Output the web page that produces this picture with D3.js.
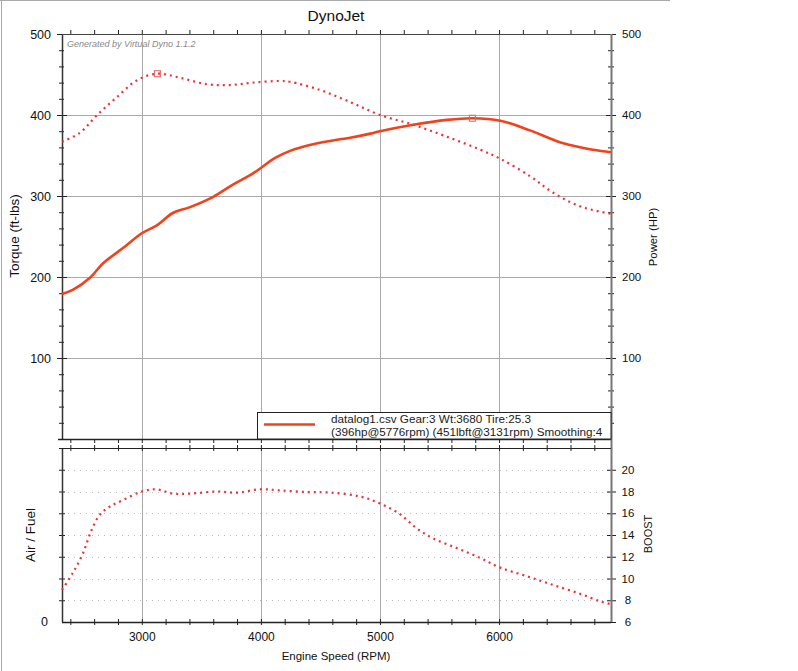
<!DOCTYPE html>
<html><head><meta charset="utf-8">
<script src="https://cdn.jsdelivr.net/npm/d3@7"></script>
<style>
body{margin:0;background:#fff;}
svg{display:block;font-family:"Liberation Sans",Arial,sans-serif;}
</style></head>
<body><svg id="c" width="798" height="671"></svg>
<script>
// ---- data ----
const rpmPower = [2330,2420,2565,2675,2845,3000,3130,3260,3400,3600,3765,3935,4120,4250,4410,4580,4750,4920,5000,5280,5565,5776,6010,6260,6540,6790,6940];
const powerHP  = [179,184,199,217,236,254,264,279,286,299,314,328,347,356,363,368,372,377,380,388,394,396,393,381,365,357,354];
const rpmTorque = [2330,2480,2625,2790,2960,3131,3320,3545,3740,3935,4160,4245,4495,4750,5000,5280,5565,5845,6010,6265,6455,6685,6940];
const torqueLb  = [367,378,400,422,443,451,446,438,437,440,442,441,431,416,400,388,373,357,346,324,304,287,278];
const rpmBoost = [2330,2420,2505,2580,2650,2730,2840,3000,3125,3260,3400,3630,3800,3990,4160,4390,4580,4830,5000,5170,5310,5445,5645,5840,6010,6235,6455,6680,6850,6935];
const boostPsi = [8.95,10.5,12.3,14.5,15.9,16.6,17.2,18.0,18.2,17.8,17.8,18.0,17.9,18.2,18.1,17.95,17.9,17.55,16.9,15.9,14.6,13.7,12.8,11.9,11.0,10.2,9.4,8.6,7.9,7.65];
const peakTorque = {rpm:3131, value:451};
const peakPower = {rpm:5776, value:396};
const rpmLabels = [3000,4000,5000,6000];
const topTickLabels = [100,200,300,400,500];
const boostTickLabels = [6,8,10,12,14,16,18,20];
const legendLines = ["datalog1.csv Gear:3 Wt:3680 Tire:25.3","(396hp@5776rpm) (451lbft@3131rpm) Smoothing:4"];

// ---- layout ----
const svg = d3.select("#c");
const L = 62, R = 611, T1 = 34, B1 = 439, T2 = 448, B2 = 622;
const x = d3.scaleLinear().domain([2330,6940]).range([L,R]);
const y = d3.scaleLinear().domain([0,500]).range([B1,T1]);
const yb = d3.scaleLinear().domain([6,22]).range([B2,T2]);
const solidCol = "#f0421c", dotCol = "#e8333a";
const FONT = "Liberation Sans, Arial, sans-serif";

// outer frame
svg.append("line").attr("x1",0).attr("x2",670).attr("y1",0.5).attr("y2",0.5).attr("stroke","#aaa");
svg.append("line").attr("x1",1.5).attr("x2",1.5).attr("y1",0).attr("y2",671).attr("stroke","#aaa");

// title
svg.append("text").attr("x",336).attr("y",21).attr("text-anchor","middle").attr("font-size",15.5).attr("fill","#111").text("DynoJet");

// gridlines top
const gTop = svg.append("g");
gTop.selectAll(".hg").data([100,200,300,400]).join("line")
  .attr("x1",L).attr("x2",R).attr("y1",d=>y(d)+0.5).attr("y2",d=>y(d)+0.5).attr("stroke","#aaa");
gTop.selectAll(".vg").data(rpmLabels).join("line")
  .attr("x1",d=>Math.round(x(d))+0.5).attr("x2",d=>Math.round(x(d))+0.5).attr("y1",T1).attr("y2",B1).attr("stroke","#aaa");
// gridlines bottom
const gBot = svg.append("g");
gBot.selectAll(".hg").data([8,10,12,14,16,18,20]).join("line")
  .attr("x1",L).attr("x2",R).attr("y1",d=>Math.round(yb(d))+0.5).attr("y2",d=>Math.round(yb(d))+0.5)
  .attr("stroke","#bbb").attr("stroke-dasharray","1,5");
gBot.selectAll(".vg").data(rpmLabels).join("line")
  .attr("x1",d=>Math.round(x(d))+0.5).attr("x2",d=>Math.round(x(d))+0.5).attr("y1",T2).attr("y2",B2).attr("stroke","#aaa");

svg.append("text").attr("x",67).attr("y",47).attr("font-size",9).attr("font-style","italic").attr("fill","#888").text("Generated by Virtual Dyno 1.1.2");

// ---- axes ----
const minorTop = d3.range(20,501,20).filter(v=>v%100!==0);
// left top
let g = svg.append("g").attr("transform",`translate(${L},0)`);
g.call(d3.axisLeft(y).tickValues(minorTop).tickSize(3).tickFormat(""));
g.selectAll(".tick line").attr("x1",2).attr("stroke","#222");
g.select(".domain").remove();
g = svg.append("g").attr("transform",`translate(${L},0)`);
g.call(d3.axisLeft(y).tickValues(topTickLabels).tickSize(5).tickPadding(6));
g.selectAll(".tick line").attr("x1",5).attr("stroke","#222");
g.selectAll(".tick text").attr("font-size",12.5).attr("fill","#111").attr("font-family",FONT);
g.select(".domain").remove();
svg.append("line").attr("x1",L+0.5).attr("x2",L+0.5).attr("y1",T1).attr("y2",B1).attr("stroke","#333").attr("stroke-width",1.5);
// right top
g = svg.append("g").attr("transform",`translate(${R},0)`);
g.call(d3.axisRight(y).tickValues(minorTop).tickSize(3).tickFormat(""));
g.selectAll(".tick line").attr("x1",-3).attr("stroke","#222");
g.select(".domain").remove();
g = svg.append("g").attr("transform",`translate(${R},0)`);
g.call(d3.axisRight(y).tickValues(topTickLabels).tickSize(5).tickPadding(6));
g.selectAll(".tick line").attr("x1",-5).attr("stroke","#222");
g.selectAll(".tick text").attr("font-size",11.5).attr("fill","#111").attr("font-family",FONT);
g.select(".domain").remove();
// top x ticks
const minorX = d3.range(2400,6901,200);
[T1, B1].forEach((yy,i)=>{
  const a = svg.append("g").attr("transform",`translate(0,${yy})`);
  a.call((i===0?d3.axisTop(x):d3.axisBottom(x)).tickValues(minorX).tickSize(4).tickFormat(""));
  a.selectAll(".tick line").attr("stroke","#222");
  a.select(".domain").remove();
});
svg.append("line").attr("x1",L).attr("x2",R).attr("y1",T1+0.5).attr("y2",T1+0.5).attr("stroke","#444");
svg.append("line").attr("x1",L-4).attr("x2",R).attr("y1",B1+0.5).attr("y2",B1+0.5).attr("stroke","#222").attr("stroke-width",1.5);

// bottom panel axes
g = svg.append("g").attr("transform",`translate(${L},0)`);
g.call(d3.axisLeft(yb).tickValues(d3.range(8,23,2)).tickSize(3).tickFormat(""));
g.selectAll(".tick line").attr("x1",3).attr("stroke","#222");
g.select(".domain").remove();
svg.append("text").attr("x",48).attr("y",yb(6)+4).attr("text-anchor","end").attr("font-size",12.5).attr("fill","#111").text("0");
svg.append("line").attr("x1",L+0.5).attr("x2",L+0.5).attr("y1",T2).attr("y2",B2).attr("stroke","#333").attr("stroke-width",1.5);
g = svg.append("g").attr("transform",`translate(${R},0)`);
g.call(d3.axisRight(yb).tickValues(boostTickLabels).tickSize(5).tickPadding(7));
g.selectAll(".tick line").attr("x1",-4).attr("stroke","#222");
g.selectAll(".tick text").attr("font-size",11.5).attr("fill","#111").attr("font-family",FONT)
  .attr("text-anchor","middle").attr("x",17);
g.select(".domain").remove();
svg.append("line").attr("x1",R+0.5).attr("x2",R+0.5).attr("y1",T1).attr("y2",B2).attr("stroke","#777").attr("stroke-width",2);
[T2, B2].forEach((yy)=>{
  const a = svg.append("g").attr("transform",`translate(0,${yy})`);
  a.call(d3.axisBottom(x).tickValues(minorX).tickSize(3).tickFormat(""));
  a.selectAll(".tick line").attr("y1",-3).attr("stroke","#222");
  a.select(".domain").remove();
});
svg.append("line").attr("x1",L).attr("x2",R).attr("y1",T2+0.5).attr("y2",T2+0.5).attr("stroke","#222");
svg.append("line").attr("x1",L).attr("x2",R).attr("y1",B2+0.5).attr("y2",B2+0.5).attr("stroke","#222").attr("stroke-width",1.5);
g = svg.append("g").attr("transform",`translate(0,${B2})`);
g.call(d3.axisBottom(x).tickValues(rpmLabels).tickSize(0).tickPadding(10).tickFormat(d3.format("d")));
g.selectAll(".tick text").attr("font-size",12).attr("fill","#111").attr("font-family",FONT);
g.select(".domain").remove();

// axis titles
svg.append("text").attr("transform","translate(19,236) rotate(-90)").attr("text-anchor","middle").attr("font-size",13.5).attr("fill","#111").text("Torque (ft-lbs)");
svg.append("text").attr("transform","translate(657,237) rotate(-90)").attr("text-anchor","middle").attr("font-size",11.3).attr("fill","#111").text("Power (HP)");
svg.append("text").attr("transform","translate(35,535) rotate(-90)").attr("text-anchor","middle").attr("font-size",13.5).attr("fill","#111").text("Air / Fuel");
svg.append("text").attr("transform","translate(652,534) rotate(-90)").attr("text-anchor","middle").attr("font-size",11).attr("fill","#111").text("BOOST");
svg.append("text").attr("x",336).attr("y",660).attr("text-anchor","middle").attr("font-size",11.5).attr("fill","#111").text("Engine Speed (RPM)");

// ---- series ----
const lineTop = d3.line().curve(d3.curveCatmullRom.alpha(0.5)).x(d=>x(d[0])).y(d=>y(d[1]));
const lineBot = d3.line().curve(d3.curveCatmullRom.alpha(0.5)).x(d=>x(d[0])).y(d=>yb(d[1]));
svg.append("path").datum(d3.zip(rpmTorque,torqueLb)).attr("d",lineTop).attr("fill","none")
  .attr("stroke",dotCol).attr("stroke-width",2.2).attr("stroke-dasharray","2,4");
svg.append("path").datum(d3.zip(rpmPower,powerHP)).attr("d",lineTop).attr("fill","none")
  .attr("stroke",solidCol).attr("stroke-width",2.6);
svg.append("path").datum(d3.zip(rpmBoost,boostPsi)).attr("d",lineBot).attr("fill","none")
  .attr("stroke",dotCol).attr("stroke-width",2.2).attr("stroke-dasharray","2,4");
[peakTorque, peakPower].forEach(p=>{
  svg.append("rect").attr("x",x(p.rpm)-3).attr("y",y(p.value)-3).attr("width",6).attr("height",6)
    .attr("fill","none").attr("stroke","#e86060").attr("stroke-width",1);
});

// legend
svg.append("rect").attr("x",257.5).attr("y",412.5).attr("width",R-257.5).attr("height",B1-412.5).attr("fill","#fff").attr("stroke","#222");
svg.append("line").attr("x1",264).attr("x2",315).attr("y1",424.5).attr("y2",424.5).attr("stroke",solidCol).attr("stroke-width",2.5);
svg.selectAll(".lg").data(legendLines).join("text").attr("x",331).attr("y",(d,i)=>423+i*13)
  .attr("font-size",11.7).attr("fill","#222").text(d=>d);
</script></body></html>
